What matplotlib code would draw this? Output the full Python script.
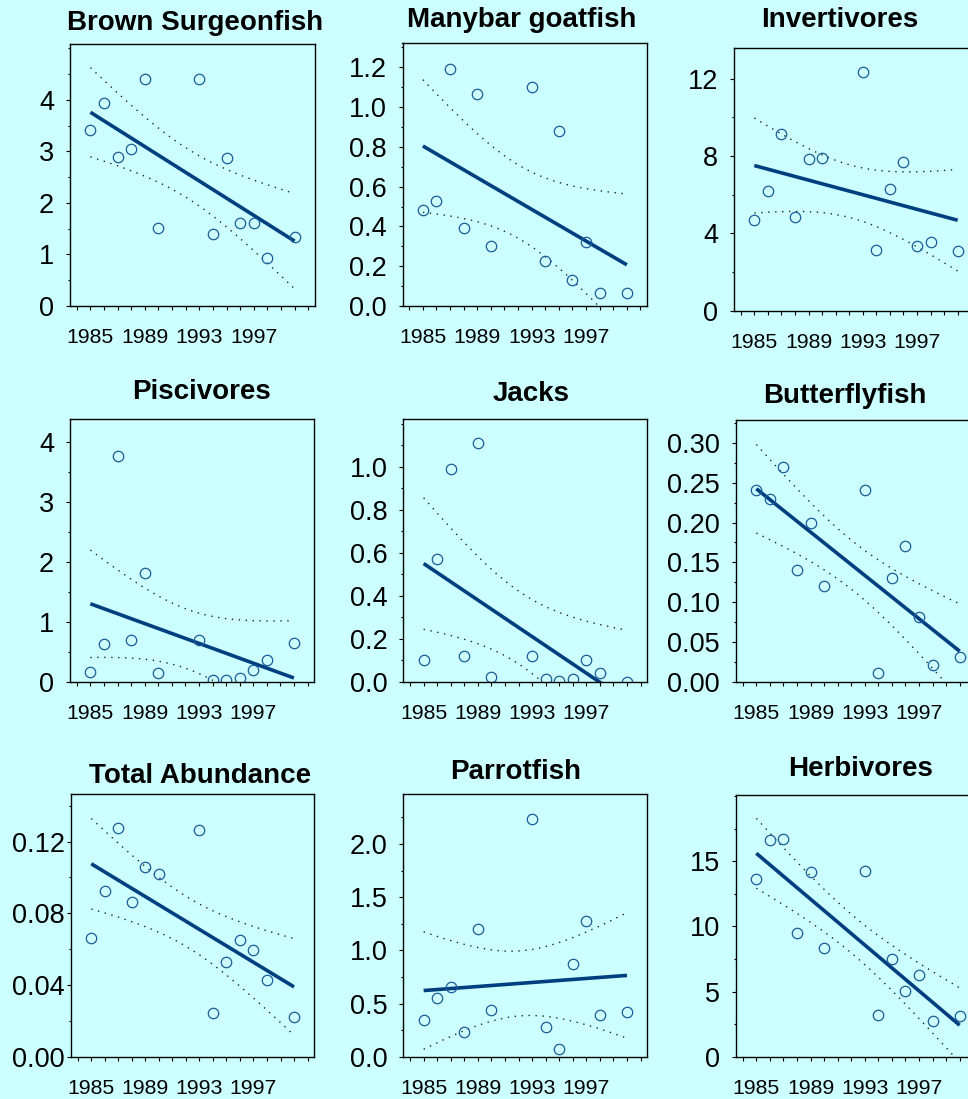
import numpy as np
import matplotlib
matplotlib.use("Agg")
import matplotlib.pyplot as plt
from matplotlib.ticker import MultipleLocator, FixedLocator, FormatStrFormatter

plt.rcParams['font.family'] = ['Liberation Sans', 'DejaVu Sans']

# survey years (1991, 1992 and 1999 missing)
years = [1985, 1986, 1987, 1988, 1989, 1990, 1993, 1994, 1995, 1996, 1997, 1998, 2000]

titles = ["Brown Surgeonfish", "Manybar goatfish", "Invertivores",
          "Piscivores", "Jacks", "Butterflyfish",
          "Total Abundance", "Parrotfish", "Herbivores"]

brown_surgeonfish = [3.42, 3.94, 2.89, 3.04, 4.41, 1.51, 4.41, 1.39, 2.88, 1.61, 1.61, 0.94, 1.33]
manybar_goatfish = [0.484, 0.526, 1.194, 0.392, 1.066, 0.303, 1.100, 0.226, 0.882, 0.132, 0.320, 0.065, 0.064]
invertivores = [4.67, 6.19, 9.12, 4.84, 7.86, 7.90, 12.34, 3.14, 6.28, 7.71, 3.36, 3.57, 3.07]
piscivores = [0.156, 0.634, 3.76, 0.70, 1.82, 0.139, 0.70, 0.033, 0.033, 0.056, 0.189, 0.36, 0.65]
jacks = [0.101, 0.569, 0.988, 0.121, 1.110, 0.020, 0.121, 0.011, 0.001, 0.011, 0.101, 0.040, 0.0]
butterflyfish = [0.241, 0.230, 0.270, 0.141, 0.200, 0.120, 0.241, 0.0105, 0.130, 0.171, 0.081, 0.0206, 0.031]
total_abundance = [0.0662, 0.0923, 0.1274, 0.0865, 0.1057, 0.1021, 0.1265, 0.0242, 0.0528, 0.0651, 0.0595, 0.0428, 0.0223]
parrotfish = [0.348, 0.549, 0.652, 0.235, 1.20, 0.439, 2.238, 0.279, 0.069, 0.871, 1.279, 0.389, 0.420]
herbivores = [13.64, 16.61, 16.69, 9.52, 14.18, 8.34, 14.28, 3.22, 7.50, 5.07, 6.25, 2.74, 3.12]

series = [brown_surgeonfish, manybar_goatfish, invertivores,
          piscivores, jacks, butterflyfish,
          total_abundance, parrotfish, herbivores]

# y axis: top limit, major step, last labelled tick, minor step, label format
y_top = [5.08, 1.321, 13.57, 4.38, 1.22, 0.329, 0.1464, 2.467, 20.09]
y_major = [1, 0.2, 4, 1, 0.2, 0.05, 0.04, 0.5, 5]
y_last = [4, 1.2, 12, 4, 1.0, 0.30, 0.12, 2.0, 15]
y_minor = [0.5, 0.1, 2, 0.5, 0.1, 0.025, 0.02, 0.25, 2.5]
y_fmt = ["%d", "%.1f", "%d", "%d", "%.1f", "%.2f", "%.2f", "%.1f", "%d"]
y_pad = [8.5, 8.5, 8.5, 8.5, 8.5, 8.5, 1.5, 8.5, 8.5]

W, H = 968, 1099
# axes boxes in pixels: left, top, right, bottom
boxes = [(70, 44.3, 315, 306), (402.5, 43.3, 647.3, 306), (734, 48.3, 978, 310.7),
         (70, 419.3, 314.3, 681.7), (403.3, 419.3, 647.3, 681.7), (736, 420, 980, 681.7),
         (71, 794.3, 314.3, 1056.7), (403.3, 794.3, 647.3, 1056.7), (736, 795, 980, 1056.7)]
# title centre x and baseline y in pixels
title_pos = [(195, 30), (522, 27.3), (840, 26.7),
             (202, 399.3), (531, 400.7), (845, 403.3),
             (200, 782.7), (516, 779), (861, 776)]

BG = "#ccffff"
LINE = "#003f7f"
MARK = "#1f5a9a"
T90 = 1.796  # t(0.95, df=11), 90% band

fig = plt.figure(figsize=(W / 100, H / 100), dpi=100, facecolor=BG)

x = np.array(years, dtype=float)
xs = np.linspace(1985, 2000, 200)

for i, y in enumerate(series):
    l, t, r, b = boxes[i]
    ax = fig.add_axes([l / W, 1 - b / H, (r - l) / W, (b - t) / H])
    ax.set_facecolor(BG)
    y = np.array(y)

    # least squares fit with confidence band for the mean
    slope, icpt = np.polyfit(x, y, 1)
    resid = y - (slope * x + icpt)
    s = np.sqrt(np.sum(resid ** 2) / (len(x) - 2))
    sxx = np.sum((x - x.mean()) ** 2)
    fit = slope * xs + icpt
    half = T90 * s * np.sqrt(1 / len(x) + (xs - x.mean()) ** 2 / sxx)

    ax.plot(xs, fit + half, ls=(0, (1, 4)), lw=1.0, color="#222222")
    ax.plot(xs, fit - half, ls=(0, (1, 4)), lw=1.0, color="#222222")
    ax.plot(xs, fit, color=LINE, lw=2.6, solid_capstyle="butt")
    ax.plot(x, y, "o", ms=7.5, mfc="none", mec=MARK, mew=0.9)

    ax.set_xlim(1983.5, 2001.5)
    ax.set_ylim(0, y_top[i])
    ax.xaxis.set_major_locator(FixedLocator([1985, 1989, 1993, 1997]))
    ax.xaxis.set_minor_locator(MultipleLocator(1))
    majors = np.arange(0, y_last[i] + y_major[i] / 2, y_major[i])
    ax.yaxis.set_major_locator(FixedLocator(majors))
    ax.yaxis.set_minor_locator(MultipleLocator(y_minor[i]))
    ax.yaxis.set_major_formatter(FormatStrFormatter(y_fmt[i]))

    ax.tick_params(axis="x", which="both", direction="out", length=3, width=0.8,
                   labelsize=15.3, pad=13)
    ax.tick_params(axis="y", which="major", direction="out", length=3, width=0.8,
                   labelsize=19.5, pad=y_pad[i])
    ax.tick_params(axis="y", which="minor", direction="out", length=1.5, width=0.8)
    for sp in ax.spines.values():
        sp.set_linewidth(1.0)

    tx, ty = title_pos[i]
    fig.text(tx / W, 1 - ty / H, titles[i], ha="center", va="baseline",
             fontsize=20, fontweight="bold")

fig.savefig("out.png", dpi=100, facecolor=BG)
